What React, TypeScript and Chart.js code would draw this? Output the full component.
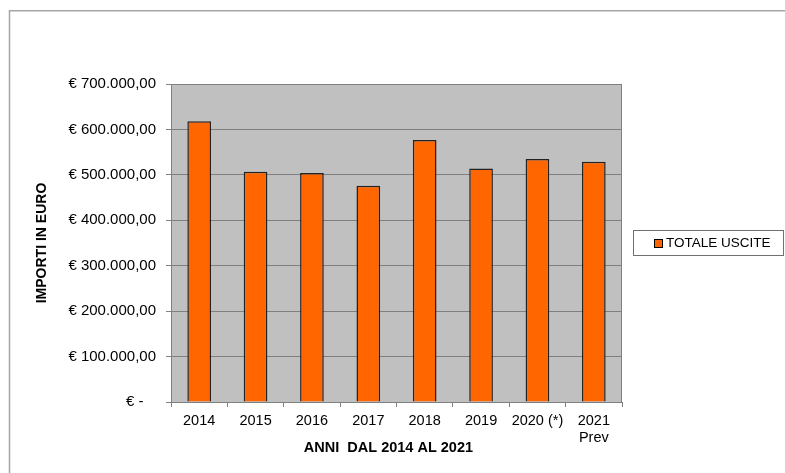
import React, { useEffect, useRef } from "react";
import { Chart, registerables } from "chart.js";

Chart.register(...registerables);

const categories: (string | string[])[] = ["2014", "2015", "2016", "2017", "2018", "2019", "2020 (*)", ["2021", "Prev"]];
const totaleUscite: number[] = [618000, 507000, 504000, 476000, 577000, 514000, 535000, 529000];
const seriesLabel = "TOTALE USCITE";
const yTitle = "IMPORTI IN EURO";
const xTitle = "ANNI  DAL 2014 AL 2021    ";
const yMax = 700000;
const yStep = 100000;

const FONT = "'Liberation Sans', Arial, Helvetica, sans-serif";

function formatEuro(v: number): string {
  if (v === 0) return "€ -   ";
  const intPart = Math.round(v).toString().replace(/\B(?=(\d{3})+(?!\d))/g, ".");
  return "€ " + intPart + ",00";
}

const decorPlugin = {
  id: "decor",
  beforeDraw(chart: any) {
    const { ctx, chartArea } = chart;
    ctx.save();
    ctx.fillStyle = "#ffffff";
    ctx.fillRect(0, 0, chart.width, chart.height);
    // outer frame (top + left)
    ctx.strokeStyle = "#a6a6a6";
    ctx.lineWidth = 1.5;
    ctx.beginPath();
    ctx.moveTo(9.5, chart.height);
    ctx.lineTo(9.5, 10.75);
    ctx.lineTo(chart.width, 10.75);
    ctx.stroke();
    // plot background
    ctx.fillStyle = "#c0c0c0";
    ctx.fillRect(chartArea.left, chartArea.top, chartArea.right - chartArea.left, chartArea.bottom - chartArea.top);
    ctx.restore();
  },
  afterDatasetsDraw(chart: any) {
    const { ctx, chartArea } = chart;
    ctx.save();
    ctx.strokeStyle = "#808080";
    ctx.lineWidth = 1;
    ctx.beginPath();
    ctx.moveTo(Math.round(chartArea.right) - 0.5, chartArea.top);
    ctx.lineTo(Math.round(chartArea.right) - 0.5, chartArea.bottom);
    ctx.stroke();
    ctx.restore();
  },
  afterDraw(chart: any) {
    const { ctx } = chart;
    const ds = chart.data.datasets[0];
    ctx.save();
    // legend box
    ctx.fillStyle = "#ffffff";
    ctx.fillRect(633.5, 230.5, 150, 25);
    ctx.strokeStyle = "#707070";
    ctx.lineWidth = 1;
    ctx.strokeRect(633.5, 230.5, 150, 25);
    // marker
    ctx.fillStyle = ds.backgroundColor;
    ctx.fillRect(654.5, 239.5, 8, 8);
    ctx.strokeStyle = "#000000";
    ctx.strokeRect(654.5, 239.5, 8, 8);
    // text
    ctx.fillStyle = "#000000";
    ctx.font = "13.5px " + FONT;
    ctx.textBaseline = "middle";
    ctx.textAlign = "left";
    ctx.fillText(ds.label, 666, 243.5);
    ctx.restore();
  },
};

export default function App() {
  const canvasRef = useRef<HTMLCanvasElement | null>(null);

  useEffect(() => {
    if (!canvasRef.current) return;
    Chart.defaults.font.family = FONT;
    const chart = new Chart(canvasRef.current, {
      type: "bar",
      data: {
        labels: categories as any,
        datasets: [
          {
            label: seriesLabel,
            data: totaleUscite,
            backgroundColor: "#ff6600",
            borderColor: "#222222",
            borderWidth: 1.5,
            barPercentage: 0.42,
            categoryPercentage: 1,
          },
        ],
      },
      options: {
        animation: false,
        responsive: false,
        maintainAspectRatio: false,
        devicePixelRatio: 1,
        layout: { padding: { top: 84, right: 163, bottom: 0, left: 0 } },
        plugins: {
          legend: { display: false },
          tooltip: { enabled: false },
        },
        scales: {
          x: {
            afterFit: (scale: any) => {
              scale.height = 71;
            },
            grid: {
              offset: true,
              drawOnChartArea: false,
              drawTicks: true,
              tickLength: 5,
              color: "#808080",
            },
            border: { color: "#808080", width: 1 },
            ticks: {
              color: "#000000",
              font: { size: 14.5, family: FONT },
              padding: 5,
              maxRotation: 0,
              autoSkip: false,
            },
            title: {
              display: true,
              text: xTitle,
              color: "#000000",
              font: { size: 14.5, weight: "bold", family: FONT },
              padding: { top: 0, bottom: 16 },
            },
          },
          y: {
            min: 0,
            max: yMax,
            afterFit: (scale: any) => {
              scale.width = 171;
            },
            grid: {
              color: "#808080",
              drawTicks: true,
              tickLength: 5,
              lineWidth: 1,
            },
            border: { color: "#808080", width: 1 },
            ticks: {
              stepSize: yStep,
              color: "#000000",
              font: { size: 15, family: FONT },
              padding: 10,
              callback: (v: any) => formatEuro(Number(v)),
            },
            title: {
              display: true,
              text: yTitle,
              color: "#000000",
              font: { size: 14, weight: "bold", family: FONT },
              padding: { top: 34, bottom: 0 },
            },
          },
        },
      },
      plugins: [decorPlugin],
    });
    return () => chart.destroy();
  }, []);

  return (
    <div style={{ position: "absolute", left: 0, top: 0, width: 785, height: 473 }}>
      <canvas ref={canvasRef} width={785} height={473} style={{ display: "block", width: 785, height: 473 }} />
    </div>
  );
}
